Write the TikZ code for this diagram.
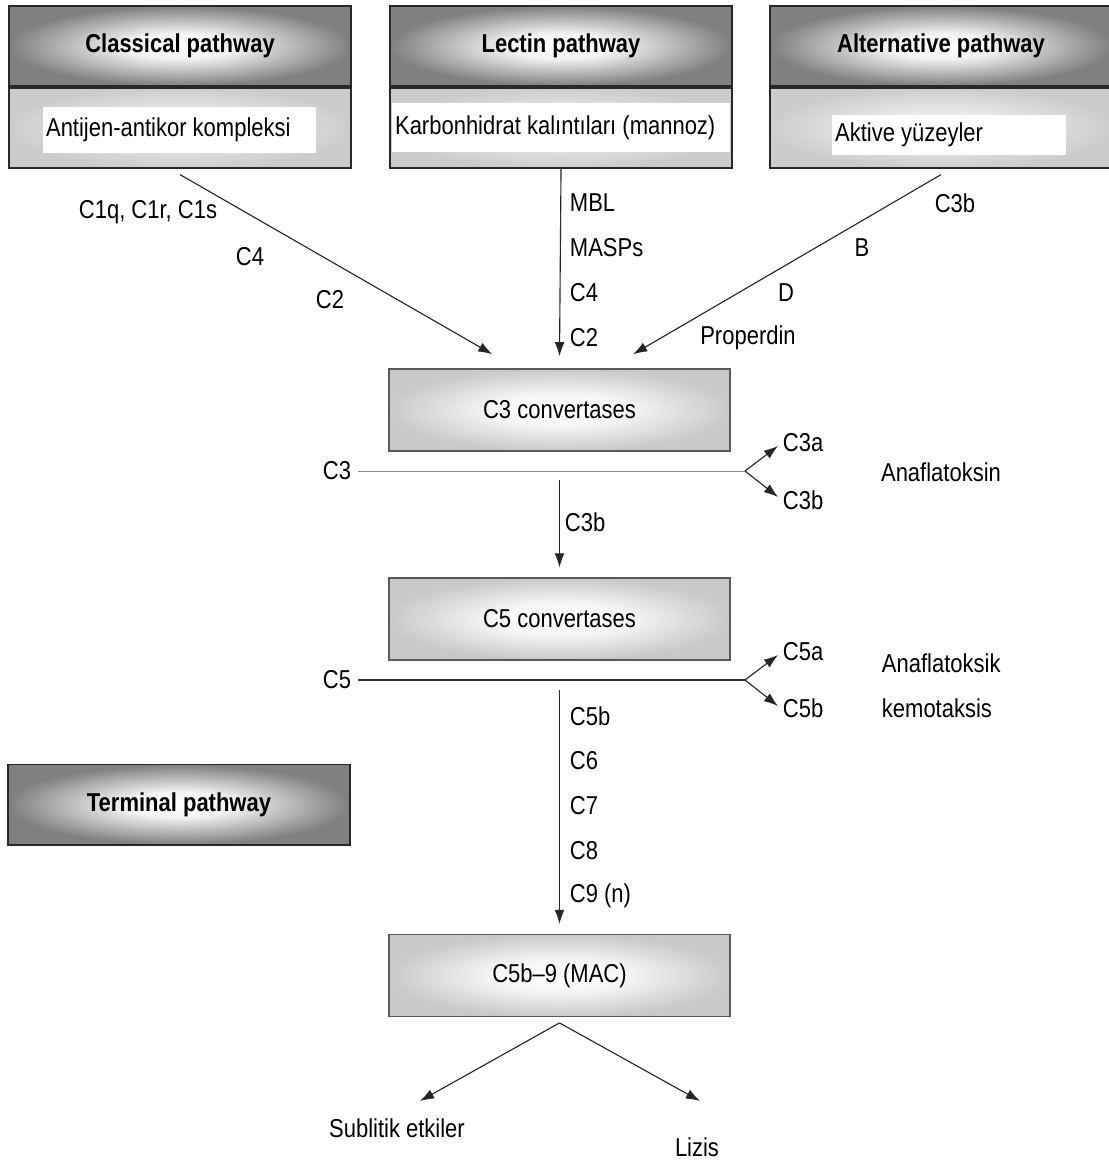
\documentclass[tikz,border=0pt]{standalone}
\usepackage{fontspec}
\setmainfont[FakeStretch=0.85]{Liberation Sans}
\usetikzlibrary{positioning}
\usetikzlibrary{arrows.meta}
\definecolor{edge-gray}{RGB}{40, 40, 40}
\newcommand{\labelsize}{\fontsize{18.4}{22}\selectfont}

\pgfdeclareradialshading{headglow}{\pgfpoint{0bp}{0bp}}{color(0bp)=(white); color(8bp)=(white!95!black);
  color(25bp)=(black!50); color(50bp)=(black!50)}
\pgfdeclareradialshading{bodyglow}{\pgfpoint{0bp}{0bp}}{color(0bp)=(white!97!black); color(12bp)=(white!90!black);
  color(25bp)=(black!20); color(50bp)=(black!20)}
\pgfdeclareradialshading{convglow}{\pgfpoint{0bp}{0bp}}{color(0bp)=(white); color(10bp)=(white!96!black);
  color(25bp)=(black!21); color(50bp)=(black!21)}

\tikzset{
  pathhead/.style={draw=edge-gray, line width=1.4pt, shade, shading=headglow,
    minimum width=8.55cm, minimum height=2cm, font=\labelsize\bfseries},
  pathbody/.style={draw=edge-gray, line width=1.4pt, shade, shading=bodyglow,
    minimum width=8.55cm, minimum height=2cm},
  txtbg/.style={fill=white, inner xsep=2pt, inner ysep=0pt, minimum height=1.15cm, align=flush left},
  convbox/.style={draw=black!65, line width=1.1pt, shade, shading=convglow,
    minimum width=8.53cm, minimum height=2.05cm},
  arr/.style={draw=black!85, line width=0.8pt, -{Latex[length=10pt,width=7pt,fill=black!85]}},
  cleave/.style={line width=0.7pt},
}

\begin{document}
\begin{tikzpicture}[x=0.025cm, y=-0.025cm, font=\labelsize]
  \useasboundingbox[fill=white] (0,0) rectangle (1109,1167);

  % three activation pathways
  \node[pathhead, anchor=north west] (clh) at (8,5) {Classical pathway};
  \node[pathbody, below=0pt of clh] (clb) {};
  \node[txtbg, anchor=north west, text width=6.68cm] (clt) at (43,107) {Antijen-antikor kompleksi};

  \node[pathhead, anchor=north west] (lch) at (389,5) {Lectin pathway};
  \node[pathbody, below=0pt of lch] (lcb) {};
  \node[txtbg, anchor=north west, text width=8.3cm, minimum height=1.22cm] (lct) at (392,103) {Karbonhidrat kalıntıları (mannoz)};

  \node[pathhead, anchor=north west] (alh) at (769,5) {Alternative pathway};
  \node[pathbody, below=0pt of alh] (alb) {};
  \node[txtbg, anchor=north west, text width=5.7cm, minimum height=1cm] (alt) at (832,115) {Aktive yüzeyler};

  % convertases and MAC
  \node[convbox] (c3box) at (559.5,410) {C3 convertases};
  \node[convbox] (c5box) at (559.5,619) {C5 convertases};
  \node[convbox] (mac) at (559.5,975.5) {C5b--9 (MAC)};
  \node[pathhead] (term) at (179,804.5) {Terminal pathway};

  % arrows into C3 convertases
  \draw[arr] ([yshift=-4pt]clb.south) -- ([xshift=-1.68cm,yshift=0.35cm]c3box.north);
  \draw[arr] (lcb.south) -- ([yshift=0.3cm]c3box.north);
  \draw[arr] ([yshift=-4pt]alb.south) -- ([xshift=1.84cm,yshift=0.35cm]c3box.north);

  \node (c1) at (148,212) {C1q, C1r, C1s};
  \node (c4l) at (250,257) {C4};
  \node (c2l) at (330,300) {C2};
  \node[anchor=west] (mbl) at (565,203) {MBL};
  \node[anchor=west] (masp) at (565,248) {MASPs};
  \node[anchor=west] (c4m) at (565,293) {C4};
  \node[anchor=west] (c2m) at (565,338) {C2};
  \node (c3br) at (955,203) {C3b};
  \node (fb) at (862,248) {B};
  \node (fd) at (786,293) {D};
  \node (prop) at (748,338) {Properdin};

  % C3 cleavage
  \coordinate (c3in) at (358,471);
  \coordinate (c3fork) at (745,471);
  \coordinate (c3atip) at (778,446);
  \coordinate (c3btip) at (778,497);
  \draw[cleave, black!45] (c3in) -- (c3fork);
  \draw[arr] (c3fork) -- (c3atip);
  \draw[arr] (c3fork) -- (c3btip);
  \node[anchor=east] (c3lbl) at (356,471) {C3};
  \node[anchor=west] (c3a) at (778,443) {C3a};
  \node[anchor=west] (c3b) at (778,500) {C3b};
  \node (ana) at (941,472) {Anaflatoksin};

  \coordinate (c3down) at (559.5,480);
  \draw[arr] (c3down) -- ([yshift=7pt]c5box.north);
  \node[anchor=west] (c3bd) at (560,522) {C3b};

  % C5 cleavage
  \coordinate (c5in) at (358,680);
  \coordinate (c5fork) at (745,680);
  \coordinate (c5atip) at (778,655);
  \coordinate (c5btip) at (778,706);
  \draw[cleave, line width=1.1pt, black!80] (c5in) -- (c5fork);
  \draw[arr] (c5fork) -- (c5atip);
  \draw[arr] (c5fork) -- (c5btip);
  \node[anchor=east] (c5lbl) at (356,680) {C5};
  \node[anchor=west] (c5a) at (778,652) {C5a};
  \node[anchor=west] (c5b) at (778,708) {C5b};
  \node[anchor=west] (anak) at (877,663) {Anaflatoksik};
  \node[anchor=west] (kemo) at (877,708) {kemotaksis};

  \coordinate (c5down) at (559.5,690);
  \draw[arr] (c5down) -- ([yshift=7pt]mac.north);
  \node[anchor=west] (c5bd) at (565,716) {C5b};
  \node[anchor=west] (c6) at (565,761) {C6};
  \node[anchor=west] (c7) at (565,806) {C7};
  \node[anchor=west] (c8) at (565,851) {C8};
  \node[anchor=west] (c9) at (565,896) {C9 (n)};

  % outcomes of MAC
  \node (sub) at (397,1128) {Sublitik etkiler};
  \node (liz) at (697,1147) {Lizis};
  \coordinate (subtip) at (420,1101);
  \coordinate (liztip) at (700,1101);
  \draw[arr] ([yshift=-4pt]mac.south) -- (subtip);
  \draw[arr] ([yshift=-4pt]mac.south) -- (liztip);
\end{tikzpicture}
\end{document}
